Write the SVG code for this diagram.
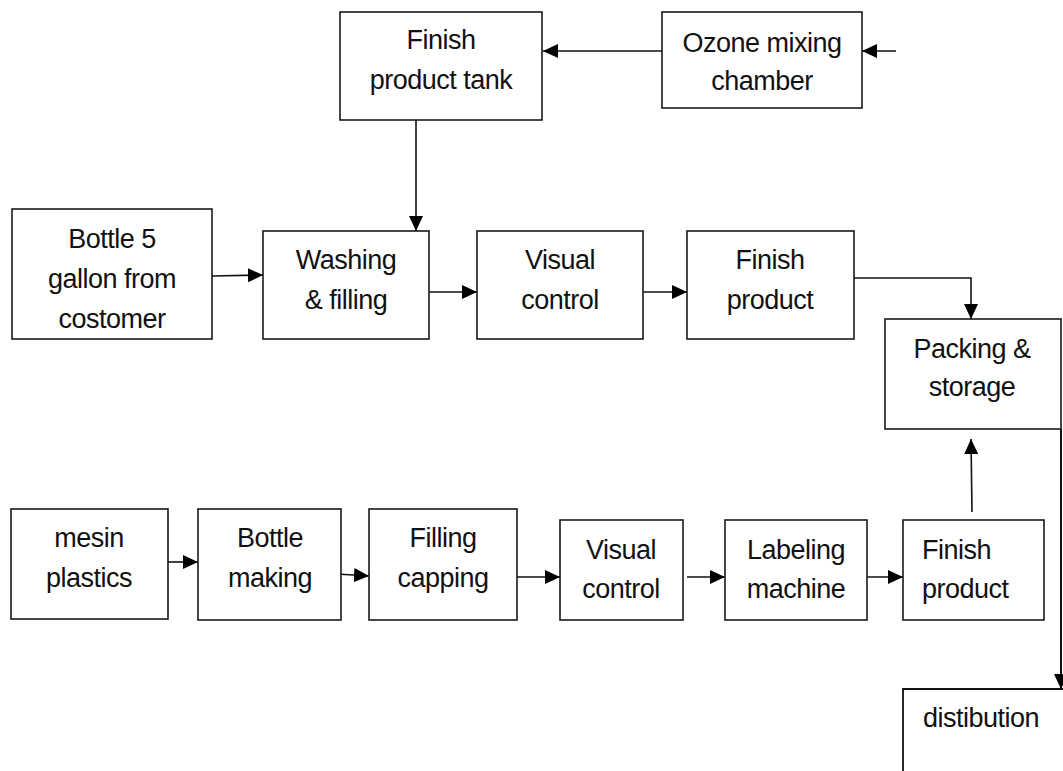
<svg xmlns="http://www.w3.org/2000/svg" width="1063" height="771" viewBox="0 0 1063 771">
<defs>
<style>
.box{fill:#fff;stroke:#1a1a1a;stroke-width:1.6}
.t{font-family:"Liberation Sans",Arial,sans-serif;font-size:27px;letter-spacing:-0.5px;fill:#111;text-anchor:middle}
.l{text-anchor:start}
.c{fill:none;stroke:#111;stroke-width:1.6}
</style>
<marker id="ah" markerUnits="userSpaceOnUse" markerWidth="16" markerHeight="15" refX="15" refY="7" orient="auto">
<path d="M0,0 L15,7 L0,14 z" fill="#000"/>
</marker>
</defs>
<rect width="1063" height="771" fill="#fff"/>
<g id="connectors">
<line class="c" x1="896" y1="51" x2="862" y2="51" marker-end="url(#ah)"/>
<line class="c" x1="662" y1="51" x2="543" y2="51" marker-end="url(#ah)"/>
<line class="c" x1="416" y1="120" x2="416" y2="231" marker-end="url(#ah)"/>
<line class="c" x1="212" y1="276" x2="263" y2="275" marker-end="url(#ah)"/>
<line class="c" x1="429" y1="292" x2="477" y2="292" marker-end="url(#ah)"/>
<line class="c" x1="643" y1="292" x2="687" y2="292" marker-end="url(#ah)"/>
<polyline class="c" points="854,278 971,278 971,319" marker-end="url(#ah)"/>
<line class="c" x1="972" y1="512" x2="971" y2="439" marker-end="url(#ah)"/>
<line class="c" x1="1061" y1="429" x2="1061" y2="689" marker-end="url(#ah)" style="stroke-width:2"/>
<line class="c" x1="168" y1="562" x2="198" y2="562" marker-end="url(#ah)"/>
<line class="c" x1="337" y1="574" x2="369" y2="576" marker-end="url(#ah)"/>
<line class="c" x1="517" y1="577" x2="560" y2="577" marker-end="url(#ah)"/>
<line class="c" x1="687" y1="577" x2="725" y2="577" marker-end="url(#ah)"/>
<line class="c" x1="861" y1="577" x2="903" y2="577" marker-end="url(#ah)"/>
</g>
<g id="tank"><rect class="box" x="340" y="12" width="202" height="108"/><text class="t" x="441" y="49">Finish</text><text class="t" x="441" y="89">product tank</text></g>
<g id="ozone"><rect class="box" x="662" y="12" width="200" height="96"/><text class="t" x="762" y="52">Ozone mixing</text><text class="t" x="762" y="90">chamber</text></g>
<g id="bottle5"><rect class="box" x="12" y="209" width="200" height="130"/><text class="t" x="112" y="248">Bottle 5</text><text class="t" x="112" y="288">gallon from</text><text class="t" x="112" y="328">costomer</text></g>
<g id="washing"><rect class="box" x="263" y="231" width="166" height="108"/><text class="t" x="346" y="269">Washing</text><text class="t" x="346" y="309">&amp; filling</text></g>
<g id="visual1"><rect class="box" x="477" y="231" width="166" height="108"/><text class="t" x="560" y="269">Visual</text><text class="t" x="560" y="309">control</text></g>
<g id="finish1"><rect class="box" x="687" y="231" width="167" height="108"/><text class="t" x="770" y="269">Finish</text><text class="t" x="770" y="309">product</text></g>
<g id="packing"><rect class="box" x="885" y="319" width="176" height="110"/><text class="t" x="972" y="358">Packing &amp;</text><text class="t" x="972" y="396">storage</text></g>
<g id="mesin"><rect class="box" x="11" y="509" width="157" height="110"/><text class="t" x="89" y="547">mesin</text><text class="t" x="89" y="587">plastics</text></g>
<g id="bottlemaking"><rect class="box" x="198" y="509" width="143" height="111"/><text class="t" x="270" y="547">Bottle</text><text class="t" x="270" y="587">making</text></g>
<g id="fillingcapping"><rect class="box" x="369" y="509" width="148" height="111"/><text class="t" x="443" y="547">Filling</text><text class="t" x="443" y="587">capping</text></g>
<g id="visual2"><rect class="box" x="560" y="520" width="123" height="100"/><text class="t" x="621" y="559">Visual</text><text class="t" x="621" y="598">control</text></g>
<g id="labeling"><rect class="box" x="725" y="520" width="142" height="100"/><text class="t" x="796" y="559">Labeling</text><text class="t" x="796" y="598">machine</text></g>
<g id="finish2"><rect class="box" x="903" y="520" width="141" height="100"/><text class="t l" x="922" y="559">Finish</text><text class="t l" x="922" y="598">product</text></g>
<g id="distribution"><path d="M903,771 L903,689 L1063,689" fill="none" stroke="#111" stroke-width="1.8"/><text class="t l" x="923" y="727">distibution</text></g>
</svg>
